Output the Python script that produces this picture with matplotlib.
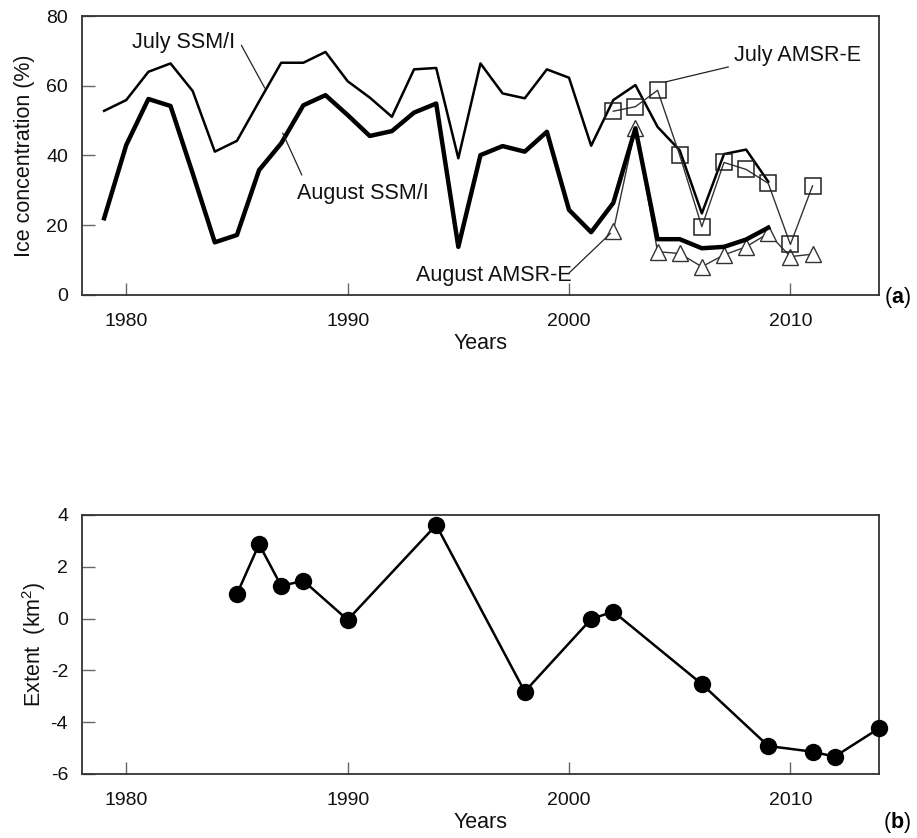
import matplotlib
matplotlib.use("Agg")
import matplotlib.pyplot as plt

plt.rcParams['font.family'] = ['Liberation Sans', 'DejaVu Sans']
plt.rcParams['mathtext.fontset'] = 'custom'
plt.rcParams['mathtext.rm'] = 'Liberation Sans'
plt.rcParams['mathtext.bf'] = 'Liberation Sans:bold'
plt.rcParams['axes.unicode_minus'] = False

# ---- Panel (a) data ----
ssmi_years = list(range(1979, 2010))
july_ssmi = [52.8, 55.9, 64.0, 66.4, 58.5, 41.1, 44.2, 55.5, 66.6, 66.6,
             69.7, 61.3, 56.6, 51.1, 64.7, 65.1, 39.2, 66.4, 57.8, 56.4,
             64.7, 62.3, 42.8, 55.9, 60.2, 48.2, 41.5, 23.4, 40.4, 41.7, 32.5]
aug_ssmi = [22.0, 43.0, 56.2, 54.2, 34.9, 15.1, 17.2, 35.8, 43.5, 54.4,
            57.3, 51.6, 45.6, 47.0, 52.3, 54.9, 13.8, 40.1, 42.7, 41.1,
            46.8, 24.4, 18.0, 26.4, 47.8, 16.0, 16.0, 13.4, 13.8, 15.9, 19.3]
amsr_years = list(range(2002, 2012))
july_amsr = [52.7, 54.0, 58.7, 40.1, 19.6, 38.0, 36.0, 32.0, 14.5, 31.3]
aug_amsr = [18.3, 47.8, 12.4, 11.9, 8.1, 11.5, 13.8, 17.7, 11.0, 11.7]

# ---- Panel (b) data ----
ext_years = [1985, 1986, 1987, 1988, 1990, 1994, 1998, 2001, 2002, 2006, 2009, 2011, 2012, 2014]
extent = [0.95, 2.87, 1.26, 1.46, -0.05, 3.61, -2.82, -0.02, 0.27, -2.53, -4.92, -5.14, -5.33, -4.24]

xticks = [1980, 1990, 2000, 2010]

fig = plt.figure(figsize=(9.17, 8.38), dpi=100)
ax1 = fig.add_axes([0.0894, 0.6480, 0.8691, 0.3329])
ax2 = fig.add_axes([0.0894, 0.0764, 0.8691, 0.3091])

TICK_FS = 14
LAB_FS = 15.5

for ax in (ax1, ax2):
    ax.set_xlim(1978, 2014)
    ax.set_xticks(xticks)
    ax.tick_params(direction='in', length=9, width=1, color='#666666',
                   labelsize=TICK_FS, pad=10, labelcolor='#111111')
    ax.tick_params(axis='x', pad=13)
    for s in ax.spines.values():
        s.set_color('#333333')
        s.set_linewidth(1.3)
    ax.set_xlabel('Years', fontsize=LAB_FS, labelpad=2, color='#111111')

# Panel (a)
ax1.set_ylim(0, 80)
ax1.set_yticks([0, 20, 40, 60, 80])
ax1.plot(ssmi_years, july_ssmi, color='black', lw=1.8, zorder=3)
ax1.plot(ssmi_years, aug_ssmi, color='black', lw=3.2, zorder=3)
ax1.plot(amsr_years, july_amsr, color='#333333', lw=1.0, marker='s', ms=11,
         mfc='none', mec='#222222', mew=1.1, zorder=4)
ax1.plot(amsr_years, aug_amsr, color='#333333', lw=1.0, marker='^', ms=11,
         mfc='white', mec='#333333', mew=1.0, zorder=2)
ax1.set_ylabel('Ice concentration (%)', fontsize=LAB_FS, labelpad=8, color='#111111')

ann = dict(fontsize=LAB_FS, ha='center', va='center', color='#111111')
ax1.text(1982.6, 72.5, 'July SSM/I', **ann)
ax1.text(1990.7, 29.2, 'August SSM/I', **ann)
ax1.text(2010.3, 68.8, 'July AMSR-E', **ann)
ax1.text(1996.6, 5.7, 'August AMSR-E', **ann)
lp = dict(arrowstyle='-', lw=0.9, color='#222222', shrinkA=0, shrinkB=0)
ax1.annotate('', xy=(1986.26, 59.3), xytext=(1985.2, 71.6), arrowprops=lp)
ax1.annotate('', xy=(1987.07, 46.4), xytext=(1987.93, 34.4), arrowprops=lp)
ax1.annotate('', xy=(2004.36, 61.1), xytext=(2007.2, 65.4), arrowprops=lp)
ax1.annotate('', xy=(2001.88, 17.7), xytext=(2000.0, 6.3), arrowprops=lp)
fig.text(0.9935, 0.6444, r'($\mathbf{a}$)', fontsize=LAB_FS, ha='right', va='center')

# Panel (b)
ax2.set_ylim(-6, 4)
ax2.set_yticks([-6, -4, -2, 0, 2, 4])
ax2.plot(ext_years, extent, color='black', lw=1.8, marker='o', ms=11.5,
         mfc='black', mec='black', zorder=3, clip_on=False)
ax2.set_ylabel(r'Extent  (km$^2$)', fontsize=LAB_FS, labelpad=2, color='#111111')
fig.text(0.9935, 0.0179, r'($\mathbf{b}$)', fontsize=LAB_FS, ha='right', va='center')

fig.savefig('out.png', dpi=100)
